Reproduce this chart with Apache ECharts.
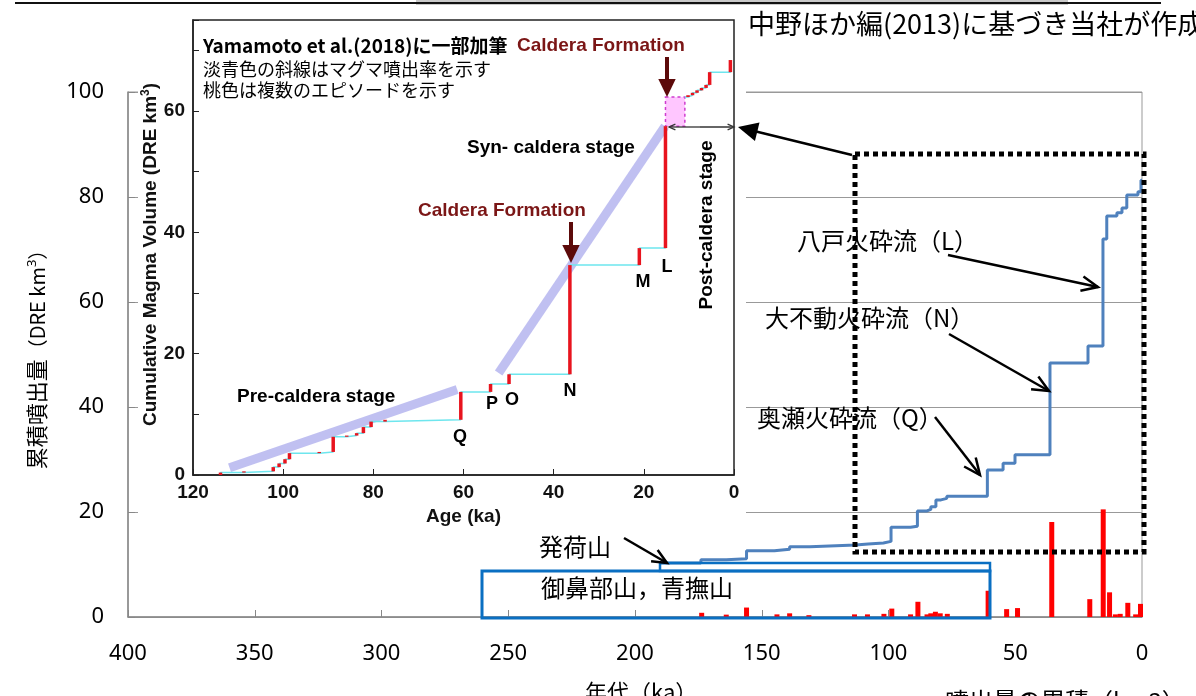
<!DOCTYPE html>
<html>
<head>
<meta charset="utf-8">
<script src="https://cdn.jsdelivr.net/npm/echarts@6/dist/echarts.min.js"></script>
<style>
html, body { margin: 0; padding: 0; background: #fff; }
#main { width: 1196px; height: 696px; }
</style>
</head>
<body>
<div id="main"></div>
<script>
// 本図: 累積噴出量の階段 (年代 ka, 累積 DRE km3)
var mainStart = [190, 10.3];
var mainAges = [174, 164, 156, 145, 139, 131, 113, 108, 102, 99, 91.3, 88.6, 84.8, 83.3, 81.3, 79.3, 77.0, 61.0, 54.8, 50.1, 36.3, 21.3, 15.4, 13.9, 9.9, 7.9, 6.0, 1.6, 0.4];
var mainCum = [10.9, 11.1, 12.6, 12.9, 13.4, 13.7, 13.9, 14.1, 14.4, 17.1, 17.3, 20.2, 20.5, 21.0, 22.3, 22.6, 23.0, 28.0, 29.3, 30.9, 48.4, 51.6, 72.0, 76.4, 77.0, 77.9, 80.4, 81.0, 83.2];

// 本図: 各噴火の噴出量 (赤棒)
var barAges = [173.7, 164, 156, 144, 139, 131.4, 113.4, 108.3, 101.8, 98.7, 91.3, 88.4, 84.8, 83.3, 81.5, 79.6, 76.8, 60.7, 53.4, 49.1, 35.6, 20.6, 15.3, 12.8, 10.5, 8.6, 5.6, 2.5, 0.6];
var barVols = [0.8, 0.45, 1.8, 0.5, 0.7, 0.35, 0.5, 0.5, 0.6, 1.6, 0.5, 2.9, 0.5, 0.7, 1.0, 0.7, 0.6, 5.0, 1.5, 1.7, 18.1, 3.4, 20.5, 4.7, 0.5, 0.6, 2.7, 0.5, 2.5];

// 挿入図 (Yamamoto et al. 2018)
var insetAges = [113.9, 108.7, 102.2, 100.9, 99.6, 98.6, 92.0, 88.9, 85.9, 83.7, 82.2, 80.5, 77.4, 60.6, 54.0, 49.9, 36.4, 21.0, 15.2];
var insetCum = [0.4, 0.6, 1.3, 1.9, 2.6, 3.6, 3.8, 6.3, 6.5, 6.9, 7.9, 8.8, 9.1, 13.7, 15.0, 16.6, 34.6, 37.4, 57.5];
var postStart = [10.9, 62.3];
var postAges = [10.2, 9.2, 8.2, 7.2, 6.2, 5.4, 0.8];
var postCum = [62.6, 63.0, 63.4, 63.8, 64.3, 66.4, 68.4];
var episodeBox = [[15.2, 57.5, 10.9, 62.3]];
var preRate = [[111.9, 1.2], [61.4, 14.1]];
var synRate = [[52.2, 16.8], [15.3, 57.5]];

var mainXTicks = { min: 0, max: 400, interval: 50 };
var mainYTicks = { min: 0, max: 100, interval: 20 };
var insetXTicks = { min: 0, max: 120, interval: 20 };
var insetYTicks = { min: 0, max: 75, interval: 10 };

function stepPath(start, ages, cums) {
  var pts = [start.slice()];
  var prev = start[1];
  for (var i = 0; i < ages.length; i++) {
    pts.push([ages[i], prev]);
    pts.push([ages[i], cums[i]]);
    prev = cums[i];
  }
  return pts;
}
function risers(start, ages, cums) {
  var out = [];
  var prev = start;
  for (var i = 0; i < ages.length; i++) {
    out.push([ages[i], prev, cums[i]]);
    prev = cums[i];
  }
  return out;
}

var mainLine = stepPath(mainStart, mainAges, mainCum);
mainLine.push([0, mainCum[mainCum.length - 1]]);
var bars = barAges.map(function (a, i) { return [a, barVols[i]]; });
var insetPre = stepPath([insetAges[0], 0], insetAges, insetCum);
var insetPost = stepPath(postStart, postAges, postCum);
var redSegs = risers(0, insetAges, insetCum).concat(risers(postStart[1], postAges, postCum));

function arrow(x1, y1, x2, y2, color, w, head, filled) {
  var a = Math.atan2(y2 - y1, x2 - x1);
  var sp = filled ? 0.45 : 0.42;
  var h1 = [x2 - head * Math.cos(a - sp), y2 - head * Math.sin(a - sp)];
  var h2 = [x2 - head * Math.cos(a + sp), y2 - head * Math.sin(a + sp)];
  var els = [];
  if (filled) {
    var bx = x2 - head * 0.8 * Math.cos(a), by = y2 - head * 0.8 * Math.sin(a);
    els.push({ type: 'line', z: 20, shape: { x1: x1, y1: y1, x2: bx, y2: by }, style: { stroke: color, lineWidth: w } });
    els.push({ type: 'polygon', z: 20, shape: { points: [[x2, y2], h1, h2] }, style: { fill: color } });
  } else {
    els.push({ type: 'line', z: 20, shape: { x1: x1, y1: y1, x2: x2, y2: y2 }, style: { stroke: color, lineWidth: w } });
    els.push({ type: 'polyline', z: 20, shape: { points: [h1, [x2, y2], h2] }, style: { stroke: color, lineWidth: w, fill: null } });
  }
  return els;
}
function txt(x, y, s, size, opt) {
  opt = opt || {};
  return {
    type: 'text', z: 20, x: x, y: y, rotation: opt.rot || 0,
    style: {
      text: s, fill: opt.color || '#000',
      font: (opt.bold ? 'bold ' : '') + size + 'px ' + (opt.family || '"Noto Sans CJK JP"'),
      align: opt.align || 'left', verticalAlign: 'middle'
    }
  };
}
var helv = '"Liberation Sans", Arial, sans-serif';
var jp = '"Noto Sans CJK JP"';
var hb = { bold: true, family: helv };
var hbc = { bold: true, family: helv, align: 'center' };
var dred = { bold: true, family: helv, color: '#7b1616' };

var graphics = [
  // 上端の切り抜き
  { type: 'rect', z: 1, shape: { x: 416, y: 0, width: 652, height: 5 }, style: { fill: '#c9c9c9' } },
  { type: 'line', z: 2, shape: { x1: 15, y1: 3, x2: 1161, y2: 3 }, style: { stroke: '#111', lineWidth: 2 } },
  // 挿入図の白地
  { type: 'rect', z: 3, shape: { x: 138, y: 15, width: 608, height: 515 }, style: { fill: '#fff' } },
  txt(748, 24, '中野ほか編(2013)に基づき当社が作成', 27),
  txt(203, 46, 'Yamamoto et al.(2018)に一部加筆', 19, { bold: true }),
  txt(203, 69, '淡青色の斜線はマグマ噴出率を示す', 18),
  txt(203, 90, '桃色は複数のエピソードを示す', 18),
  txt(517, 46, 'Caldera Formation', 19, dred),
  txt(418, 211, 'Caldera Formation', 19, dred),
  txt(467, 148, 'Syn- caldera stage', 19, hb),
  txt(237, 397, 'Pre-caldera stage', 19, hb),
  txt(707, 225, 'Post-caldera stage', 19, { bold: true, family: helv, align: 'center', rot: Math.PI / 2 }),
  txt(460, 437, 'Q', 18, hbc),
  txt(492, 404, 'P', 18, hbc),
  txt(512, 400, 'O', 18, hbc),
  txt(570, 391, 'N', 18, hbc),
  txt(643, 282, 'M', 18, hbc),
  txt(667, 267, 'L', 18, hbc),
  // 本図の注記
  txt(797, 241, '八戸火砕流（L）', 24),
  txt(765, 318, '大不動火砕流（N）', 24),
  txt(757, 418, '奥瀬火砕流（Q）', 24),
  txt(539, 547, '発荷山', 24),
  txt(541, 588, '御鼻部山，青撫山', 24),
  txt(585, 692, '年代（ka）', 22),
  txt(945, 701, '噴出量の累積（km3）', 24),
  { type: 'rect', z: 20, shape: { x: 482, y: 571, width: 508, height: 47 }, style: { stroke: '#0a6fc2', lineWidth: 3, fill: null } },
  { type: 'rect', z: 20, shape: { x: 660, y: 563, width: 330, height: 8 }, style: { stroke: '#0a6fc2', lineWidth: 2.5, fill: null } },
  { type: 'rect', z: 20, shape: { x: 855, y: 154, width: 289, height: 398 }, style: { stroke: '#000', lineWidth: 5, lineDash: [5, 4], fill: null } }
];
graphics = graphics
  .concat(arrow(852, 155, 738, 127, '#000', 2.5, 22, true))
  .concat(arrow(948, 255, 1098, 287, '#000', 2.5, 18, false))
  .concat(arrow(949, 334, 1049, 391, '#000', 2.5, 18, false))
  .concat(arrow(935, 417, 980, 475, '#000', 2.5, 18, false))
  .concat(arrow(624, 538, 667, 563, '#000', 2.5, 16, false))
  .concat(arrow(571, 222, 571, 263, '#5c0a0a', 4, 20, true))
  .concat(arrow(667, 57, 667, 97, '#5c0a0a', 4, 20, true))
  .concat(arrow(700, 127, 669, 127, '#333', 1.3, 7, false))
  .concat(arrow(700, 127, 734, 127, '#333', 1.3, 7, false));

var mainLabel = { fontFamily: '"Noto Sans", sans-serif', fontSize: 22, color: '#000' };
var insetLabel = { fontFamily: helv, fontSize: 19, fontWeight: 'bold', color: '#111' };

var chart = echarts.init(document.getElementById('main'));
chart.setOption({
  animation: false,
  backgroundColor: '#fff',
  grid: [
    { left: 128, top: 92, width: 1014, height: 525, show: true, borderColor: '#999', borderWidth: 1 },
    { left: 193, top: 20, width: 541, height: 455, show: true, borderColor: '#222', borderWidth: 1.5, backgroundColor: '#fff', z: 4 }
  ],
  xAxis: [
    {
      gridIndex: 0, type: 'value', inverse: true, position: 'bottom',
      min: mainXTicks.min, max: mainXTicks.max, interval: mainXTicks.interval,
      axisLine: { onZero: false, lineStyle: { color: '#888', width: 1.5 } },
      axisTick: { inside: true, length: 7, lineStyle: { color: '#888' } },
      axisLabel: Object.assign({ margin: 26 }, mainLabel),
      splitLine: { show: false }
    },
    {
      gridIndex: 1, type: 'value', inverse: true, z: 5, position: 'bottom',
      min: insetXTicks.min, max: insetXTicks.max, interval: insetXTicks.interval,
      axisLine: { onZero: false, lineStyle: { color: '#222', width: 1.5 } },
      axisTick: { inside: true, length: 6, lineStyle: { color: '#222' } },
      axisLabel: Object.assign({ margin: 8 }, insetLabel),
      splitLine: { show: false },
      name: 'Age (ka)', nameLocation: 'middle', nameGap: 31,
      nameTextStyle: { fontFamily: helv, fontSize: 19, fontWeight: 'bold', color: '#111' }
    }
  ],
  yAxis: [
    {
      gridIndex: 0, type: 'value', position: 'left',
      min: mainYTicks.min, max: mainYTicks.max, interval: mainYTicks.interval,
      axisLine: { show: true, onZero: false, lineStyle: { color: '#888', width: 1.5 } },
      axisTick: { show: true, inside: true, length: 7, lineStyle: { color: '#888' } },
      axisLabel: Object.assign({ margin: 24 }, mainLabel),
      splitLine: { lineStyle: { color: '#999', width: 1.2 } },
      name: '累積噴出量{p|（DRE km}{s|3}{p|）}', nameLocation: 'middle', nameGap: 80,
      nameTextStyle: {
        fontFamily: jp, fontSize: 22, color: '#000',
        rich: {
          p: { fontFamily: jp, fontSize: 20, color: '#000' },
          s: { fontFamily: '"Noto Sans", sans-serif', fontSize: 13, color: '#000', padding: [0, 0, 9, 0] }
        }
      }
    },
    {
      gridIndex: 1, type: 'value', z: 5, position: 'left',
      min: insetYTicks.min, max: insetYTicks.max, interval: insetYTicks.interval,
      axisLine: { show: true, onZero: false, lineStyle: { color: '#222', width: 1.5 } },
      axisTick: { show: true, inside: true, length: 6, lineStyle: { color: '#222' } },
      axisLabel: Object.assign({ margin: 8, formatter: function (v) { return v % 20 === 0 ? v : ''; } }, insetLabel),
      splitLine: { show: false },
      name: 'Cumulative Magma Volume (DRE km{s|3}{b|)}', nameLocation: 'middle', nameGap: 30,
      nameTextStyle: {
        fontFamily: helv, fontSize: 19, fontWeight: 'bold', color: '#111', padding: [0, 14, 0, 0],
        rich: {
          s: { fontFamily: helv, fontSize: 12, fontWeight: 'bold', color: '#111', padding: [0, 0, 9, 0] },
          b: { fontFamily: helv, fontSize: 19, fontWeight: 'bold', color: '#111' }
        }
      }
    }
  ],
  series: [
    {
      name: '噴出量', type: 'bar', xAxisIndex: 0, yAxisIndex: 0,
      data: bars, barWidth: 5, itemStyle: { color: '#ff0000' }
    },
    {
      name: '累積噴出量', type: 'line', xAxisIndex: 0, yAxisIndex: 0,
      data: mainLine, symbol: 'none', lineStyle: { color: '#4f81bd', width: 3 }
    },
    {
      name: 'episode', type: 'custom', xAxisIndex: 1, yAxisIndex: 1, z: 6,
      data: episodeBox, encode: { x: [0, 2], y: [1, 3] },
      renderItem: function (params, api) {
        var p0 = api.coord([api.value(0), api.value(1)]);
        var p1 = api.coord([api.value(2), api.value(3)]);
        return {
          type: 'rect',
          shape: { x: Math.min(p0[0], p1[0]), y: Math.min(p0[1], p1[1]), width: Math.abs(p1[0] - p0[0]), height: Math.abs(p1[1] - p0[1]) },
          style: { fill: '#ffc6ff', stroke: '#cf3ccf', lineWidth: 1.5, lineDash: [3, 3] }
        };
      }
    },
    {
      name: 'pre-rate', type: 'line', xAxisIndex: 1, yAxisIndex: 1, z: 6,
      data: preRate, symbol: 'none', lineStyle: { color: 'rgba(185,185,240,0.9)', width: 9, cap: 'butt' }
    },
    {
      name: 'syn-rate', type: 'line', xAxisIndex: 1, yAxisIndex: 1, z: 6,
      data: synRate, symbol: 'none', lineStyle: { color: 'rgba(185,185,240,0.9)', width: 9, cap: 'butt' }
    },
    {
      name: 'inset-pre', type: 'line', xAxisIndex: 1, yAxisIndex: 1, z: 7,
      data: insetPre, symbol: 'none', lineStyle: { color: '#6ee6ee', width: 1.5 }
    },
    {
      name: 'inset-post', type: 'line', xAxisIndex: 1, yAxisIndex: 1, z: 7,
      data: insetPost, symbol: 'none', lineStyle: { color: '#6ee6ee', width: 1.5 }
    },
    {
      name: 'inset-red', type: 'custom', xAxisIndex: 1, yAxisIndex: 1, z: 8,
      data: redSegs, encode: { x: 0, y: [1, 2] },
      renderItem: function (params, api) {
        var p0 = api.coord([api.value(0), api.value(1)]);
        var p1 = api.coord([api.value(0), api.value(2)]);
        return {
          type: 'line',
          shape: { x1: p0[0], y1: p0[1], x2: p1[0], y2: p1[1] },
          style: { stroke: '#e8141e', lineWidth: 3.5 }
        };
      }
    }
  ],
  graphic: { elements: graphics }
});
</script>
</body>
</html>
